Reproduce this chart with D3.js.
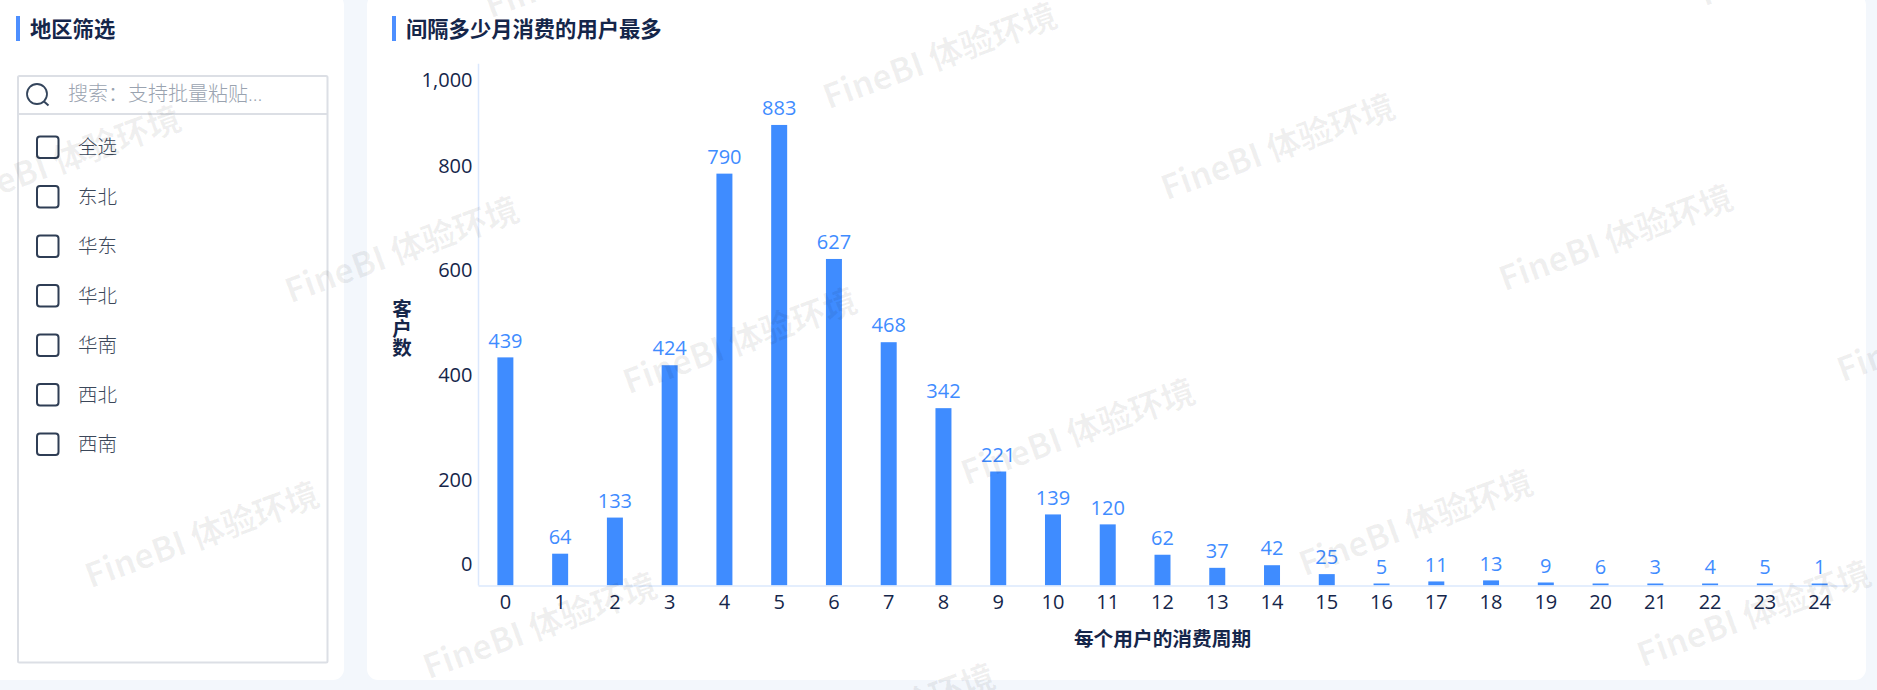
<!DOCTYPE html>
<html lang="zh">
<head>
<meta charset="utf-8">
<title>间隔多少月消费的用户最多</title>
<script src="https://cdn.jsdelivr.net/npm/d3@7"></script>
<style>
html,body{margin:0;padding:0;background:#f3f7fc;overflow:hidden}
svg{display:block}
text{font-family:"Noto Sans CJK SC","Noto Sans",sans-serif}
.num text,text.num,tspan.num{font-family:"Open Sans","Noto Sans CJK SC",sans-serif}
</style>
</head>
<body>
<svg id="c" width="1877" height="690"></svg>
<script>
const categories = ["0","1","2","3","4","5","6","7","8","9","10","11","12","13","14","15","16","17","18","19","20","21","22","23","24"];
const customers = [439,64,133,424,790,883,627,468,342,221,139,120,62,37,42,25,5,11,13,9,6,3,4,5,1];
const yTicks = [0,200,400,600,800,1000];
const regions = ["全选","东北","华东","华北","华南","西北","西南"];
const chartTitle = "间隔多少月消费的用户最多";
const filterTitle = "地区筛选";
const xTitle = "每个用户的消费周期";
const yTitle = ["客","户","数"];
const searchHint = "搜索：支持批量粘贴";
const watermark = "FineBI 体验环境";

const svg = d3.select("#c");
const blue = "#3f8cff", ink = "#15264a";

// cards
svg.append("rect").attr("x",-12).attr("y",-6).attr("width",356).attr("height",686).attr("rx",11).attr("fill","#fff");
svg.append("rect").attr("x",367).attr("y",-6).attr("width",1499).attr("height",686).attr("rx",11).attr("fill","#fff");

// card titles
[[16,30,filterTitle],[392,406,chartTitle]].forEach(([bx,tx,t])=>{
  svg.append("rect").attr("x",bx).attr("y",16).attr("width",4).attr("height",25).attr("fill","#4d8fff");
  svg.append("text").attr("x",tx).attr("y",29).attr("dy",".36em").attr("font-size",21.3).attr("font-weight",700).attr("fill",ink).text(t);
});

// filter panel
svg.append("rect").attr("x",18).attr("y",76).attr("width",309.5).attr("height",586.5).attr("rx",1.5)
  .attr("fill","none").attr("stroke","#dcdfe5").attr("stroke-width",2);
svg.append("line").attr("x1",18).attr("x2",327).attr("y1",114).attr("y2",114).attr("stroke","#dcdfe5").attr("stroke-width",2);
svg.append("circle").attr("cx",37).attr("cy",94).attr("r",10).attr("fill","none").attr("stroke","#34455c").attr("stroke-width",1.8);
svg.append("line").attr("x1",44).attr("y1",101.5).attr("x2",48.5).attr("y2",105.5).attr("stroke","#34455c").attr("stroke-width",2);
const hint = svg.append("text").attr("x",68).attr("y",94).attr("dy",".36em").attr("font-size",20).attr("font-weight",300).attr("fill","#9aa3b0");
hint.append("tspan").text(searchHint);
hint.append("tspan").attr("class","num").text("\u2026");

const rowY = d3.scalePoint().domain(regions).range([147,444]);
const row = svg.append("g").selectAll("g").data(regions).join("g")
  .attr("transform",d=>`translate(0,${rowY(d)})`);
row.append("rect").attr("x",37).attr("y",-10.5).attr("width",21.5).attr("height",21.5).attr("rx",3)
  .attr("fill","#fff").attr("stroke","#2f3e55").attr("stroke-width",2);
row.append("text").attr("x",78).attr("dy",".36em").attr("font-size",19.5).attr("font-weight",300).attr("fill","#3b4759").text(d=>d);

// chart scales
const x = d3.scaleBand().domain(categories).range([478,1847]).paddingInner(.708).paddingOuter(.354);
const y = d3.scaleLinear().domain([0,1000]).range([587.2,63.7]);
const baseY = 585.5, minBar = 2;
const barTop = v => Math.min(y(v), baseY-minBar);

// bars
svg.append("g").selectAll("rect").data(customers).join("rect")
  .attr("x",(d,i)=>x(categories[i])).attr("width",x.bandwidth())
  .attr("y",d=>barTop(d)).attr("height",d=>baseY-barTop(d)).attr("fill",blue);

// value labels
svg.append("g").attr("class","num").selectAll("text").data(customers).join("text")
  .attr("x",(d,i)=>x(categories[i])+x.bandwidth()/2).attr("y",d=>barTop(d)-17)
  .attr("dy",".36em").attr("text-anchor","middle").attr("font-size",20).attr("fill",blue).text(d=>d);

// axes
const gx = svg.append("g").attr("class","num").attr("transform",`translate(0,${baseY})`)
  .call(d3.axisBottom(x).tickSize(0).tickPadding(0));
gx.select(".domain").attr("stroke","#dbe8fd").attr("stroke-width",1.5);
gx.selectAll("text").attr("y",16).attr("dy",".36em").attr("font-size",20).attr("fill",ink);

const gy = svg.append("g").attr("class","num").attr("transform","translate(478.5,0)")
  .call(d3.axisLeft(y).tickValues(yTicks).tickFormat(d3.format(",")).tickSize(0).tickPadding(6));
gy.select(".domain").attr("stroke","#dbe8fd").attr("stroke-width",1.5)
  .attr("d",`M0,${y(1000)}V${baseY}`);
// the end labels are pushed inward so they stay inside the plot
gy.selectAll(".tick").attr("transform",d=>`translate(0,${Math.max(80,Math.min(564,y(d)-3))})`);
gy.selectAll("text").attr("dy",".36em").attr("font-size",20).attr("fill",ink);

// axis titles
svg.append("text").attr("x",d3.mean(x.range())).attr("y",639).attr("dy",".36em").attr("text-anchor","middle")
  .attr("font-size",19.7).attr("font-weight",700).attr("fill",ink).text(xTitle);
svg.append("g").selectAll("text").data(yTitle).join("text")
  .attr("x",402).attr("y",(d,i)=>309+i*19.6).attr("dy",".36em").attr("text-anchor","middle")
  .attr("font-size",19.5).attr("font-weight",700).attr("fill",ink).text(d=>d);

// watermark lattice
const wm = svg.append("g").attr("pointer-events","none");
d3.range(-2,3).forEach(j=>d3.range(-2,6).forEach(i=>{
  const cx = 402 + i*338 - j*200, cy = 250 + i*91 + j*285;
  if (cx<-140||cx>2020||cy<-70||cy>760) return;
  wm.append("text").attr("transform",`translate(${cx},${cy}) rotate(-20)`)
    .attr("text-anchor","middle").attr("dy",".36em").attr("font-size",33.5).attr("font-weight",700)
    .attr("fill","rgba(0,0,0,.06)").text(watermark);
}));
</script>
</body>
</html>
